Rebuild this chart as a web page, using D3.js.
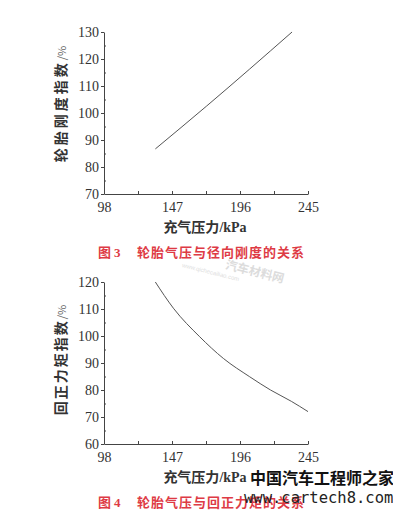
<!DOCTYPE html>
<html>
<head>
<meta charset="utf-8">
<script src="https://cdn.jsdelivr.net/npm/d3@7"></script>
<style>
  body { margin: 0; background: #fff; }
  svg { display: block; }
</style>
</head>
<body>
<svg id="chart" width="393" height="514"></svg>
<script>
// pressure (kPa) vs index (%)
var xTicks = [98, 147, 196, 245];
var xMinor = [122.5, 171.5, 220.5];

var stiffPressure = [135, 172, 233.5];
var stiffIndex = [86.7, 102.6, 130];
var stiffTicks = [70, 80, 90, 100, 110, 120, 130];

var torquePressure = [135, 148, 167, 184, 203, 218, 233, 245];
var torqueIndex = [120, 110.3, 99.7, 91.7, 84.9, 80, 75.8, 72];
var torqueTicks = [60, 70, 80, 90, 100, 110, 120];

var svg = d3.select('#chart');
var serif = '"Liberation Serif", "Times New Roman", serif';
var cjk = '"Noto Sans CJK SC", sans-serif';

function drawPanel(top, yDomain, yTicks, xs, ys, yLabel, caption) {
    var left = 104, w = 204, h = 162;
    var g = svg.append('g').attr('transform', 'translate(' + left + ',' + top + ')');

    var x = d3.scaleLinear().domain([98, 245]).range([0, w]);
    var y = d3.scaleLinear().domain(yDomain).range([h, 0]);

    // y axis: major ticks outward, minor ticks inward
    var yMinor = yTicks.slice(0, -1).map(function(d) { return d + 5; });
    g.append('g')
        .call(d3.axisLeft(y).tickValues(yMinor).tickSize(-2).tickFormat(''))
        .call(function(s) { s.select('.domain').remove(); });
    g.append('g')
        .call(d3.axisLeft(y).tickValues(yTicks).tickSizeInner(3).tickSizeOuter(0).tickPadding(2).tickFormat(d3.format('d')));

    // x axis: ticks point up into the plot
    g.append('g')
        .attr('transform', 'translate(0,' + h + ')')
        .call(d3.axisBottom(x).tickValues(xMinor).tickSize(-3).tickFormat(''))
        .call(function(s) { s.select('.domain').remove(); });
    g.append('g')
        .attr('transform', 'translate(0,' + h + ')')
        .call(d3.axisBottom(x).tickValues(xTicks).tickSizeInner(-3).tickSizeOuter(0).tickPadding(8).tickFormat(d3.format('d')));

    g.selectAll('.domain, .tick line').attr('stroke', '#444');
    g.selectAll('.tick text')
        .attr('fill', '#333')
        .style('font-family', serif)
        .style('font-size', '14px');

    var pts = xs.map(function(d, i) { return [d, ys[i]]; });
    g.append('path')
        .datum(pts)
        .attr('fill', 'none')
        .attr('stroke', '#555')
        .attr('stroke-width', 1)
        .attr('d', d3.line()
            .x(function(d) { return x(d[0]); })
            .y(function(d) { return y(d[1]); })
            .curve(d3.curveMonotoneX));

    // y label
    var yl = svg.append('text')
        .attr('transform', 'translate(66,' + yLabel.cy + ') rotate(-90)')
        .attr('text-anchor', 'middle')
        .attr('fill', '#333')
        .style('font-family', cjk)
        .style('font-size', '14px')
        .style('font-weight', 'bold')
        .style('letter-spacing', yLabel.sp + 'px');
    yl.append('tspan').text(yLabel.text);
    yl.append('tspan').style('font-weight', 'normal').style('font-size', '11px')
        .style('letter-spacing', '0px').attr('fill', '#666').text('/%');

    // x label
    var xl = svg.append('text')
        .attr('x', 205).attr('y', top + h + 38)
        .attr('text-anchor', 'middle')
        .attr('fill', '#333')
        .style('font-family', cjk)
        .style('font-size', '14px')
        .style('font-weight', 'bold');
    xl.append('tspan').text('充气压力');
    xl.append('tspan').style('font-family', serif).text('/kPa');

    // caption
    var cap = svg.append('text')
        .attr('x', 98).attr('y', top + h + 63)
        .attr('fill', '#de3b45')
        .style('font-family', cjk)
        .style('font-size', '13px')
        .style('font-weight', 'bold');
    cap.append('tspan').text('图 ');
    cap.append('tspan').style('font-family', serif).text(caption.num);
    cap.append('tspan').attr('x', 137).style('letter-spacing', '1px').text(caption.text);
}

drawPanel(32, [70, 130], stiffTicks, stiffPressure, stiffIndex,
    {text: '轮胎刚度指数', cy: 104, sp: 3}, {num: '3', text: '轮胎气压与径向刚度的关系'});
drawPanel(282, [60, 120], torqueTicks, torquePressure, torqueIndex,
    {text: '回正力矩指数', cy: 360, sp: 2}, {num: '4', text: '轮胎气压与回正力矩的关系'});

// faint site watermark
var wm = svg.append('g').attr('transform', 'translate(215,266) rotate(14)');
wm.append('text').attr('x', 10).attr('y', 0)
    .style('font-family', cjk).style('font-size', '12px').style('font-weight', 'bold')
    .attr('fill', '#dcdcdc').text('汽车材料网');
wm.append('text').attr('x', -32).attr('y', 9)
    .style('font-family', 'sans-serif').style('font-size', '6px')
    .attr('fill', '#e0e0e0').text('www.qichecailiao.com');

// cartech8 watermark
svg.append('text').attr('x', 250).attr('y', 484)
    .style('font-family', cjk).style('font-size', '16px').style('font-weight', 'bold')
    .attr('fill', '#111').text('中国汽车工程师之家');
svg.append('text').attr('x', 244).attr('y', 503)
    .style('font-family', '"DejaVu Sans Mono", monospace').style('font-size', '15.5px')
    .attr('fill', '#222').text('www.cartech8.com');
</script>
</body>
</html>
